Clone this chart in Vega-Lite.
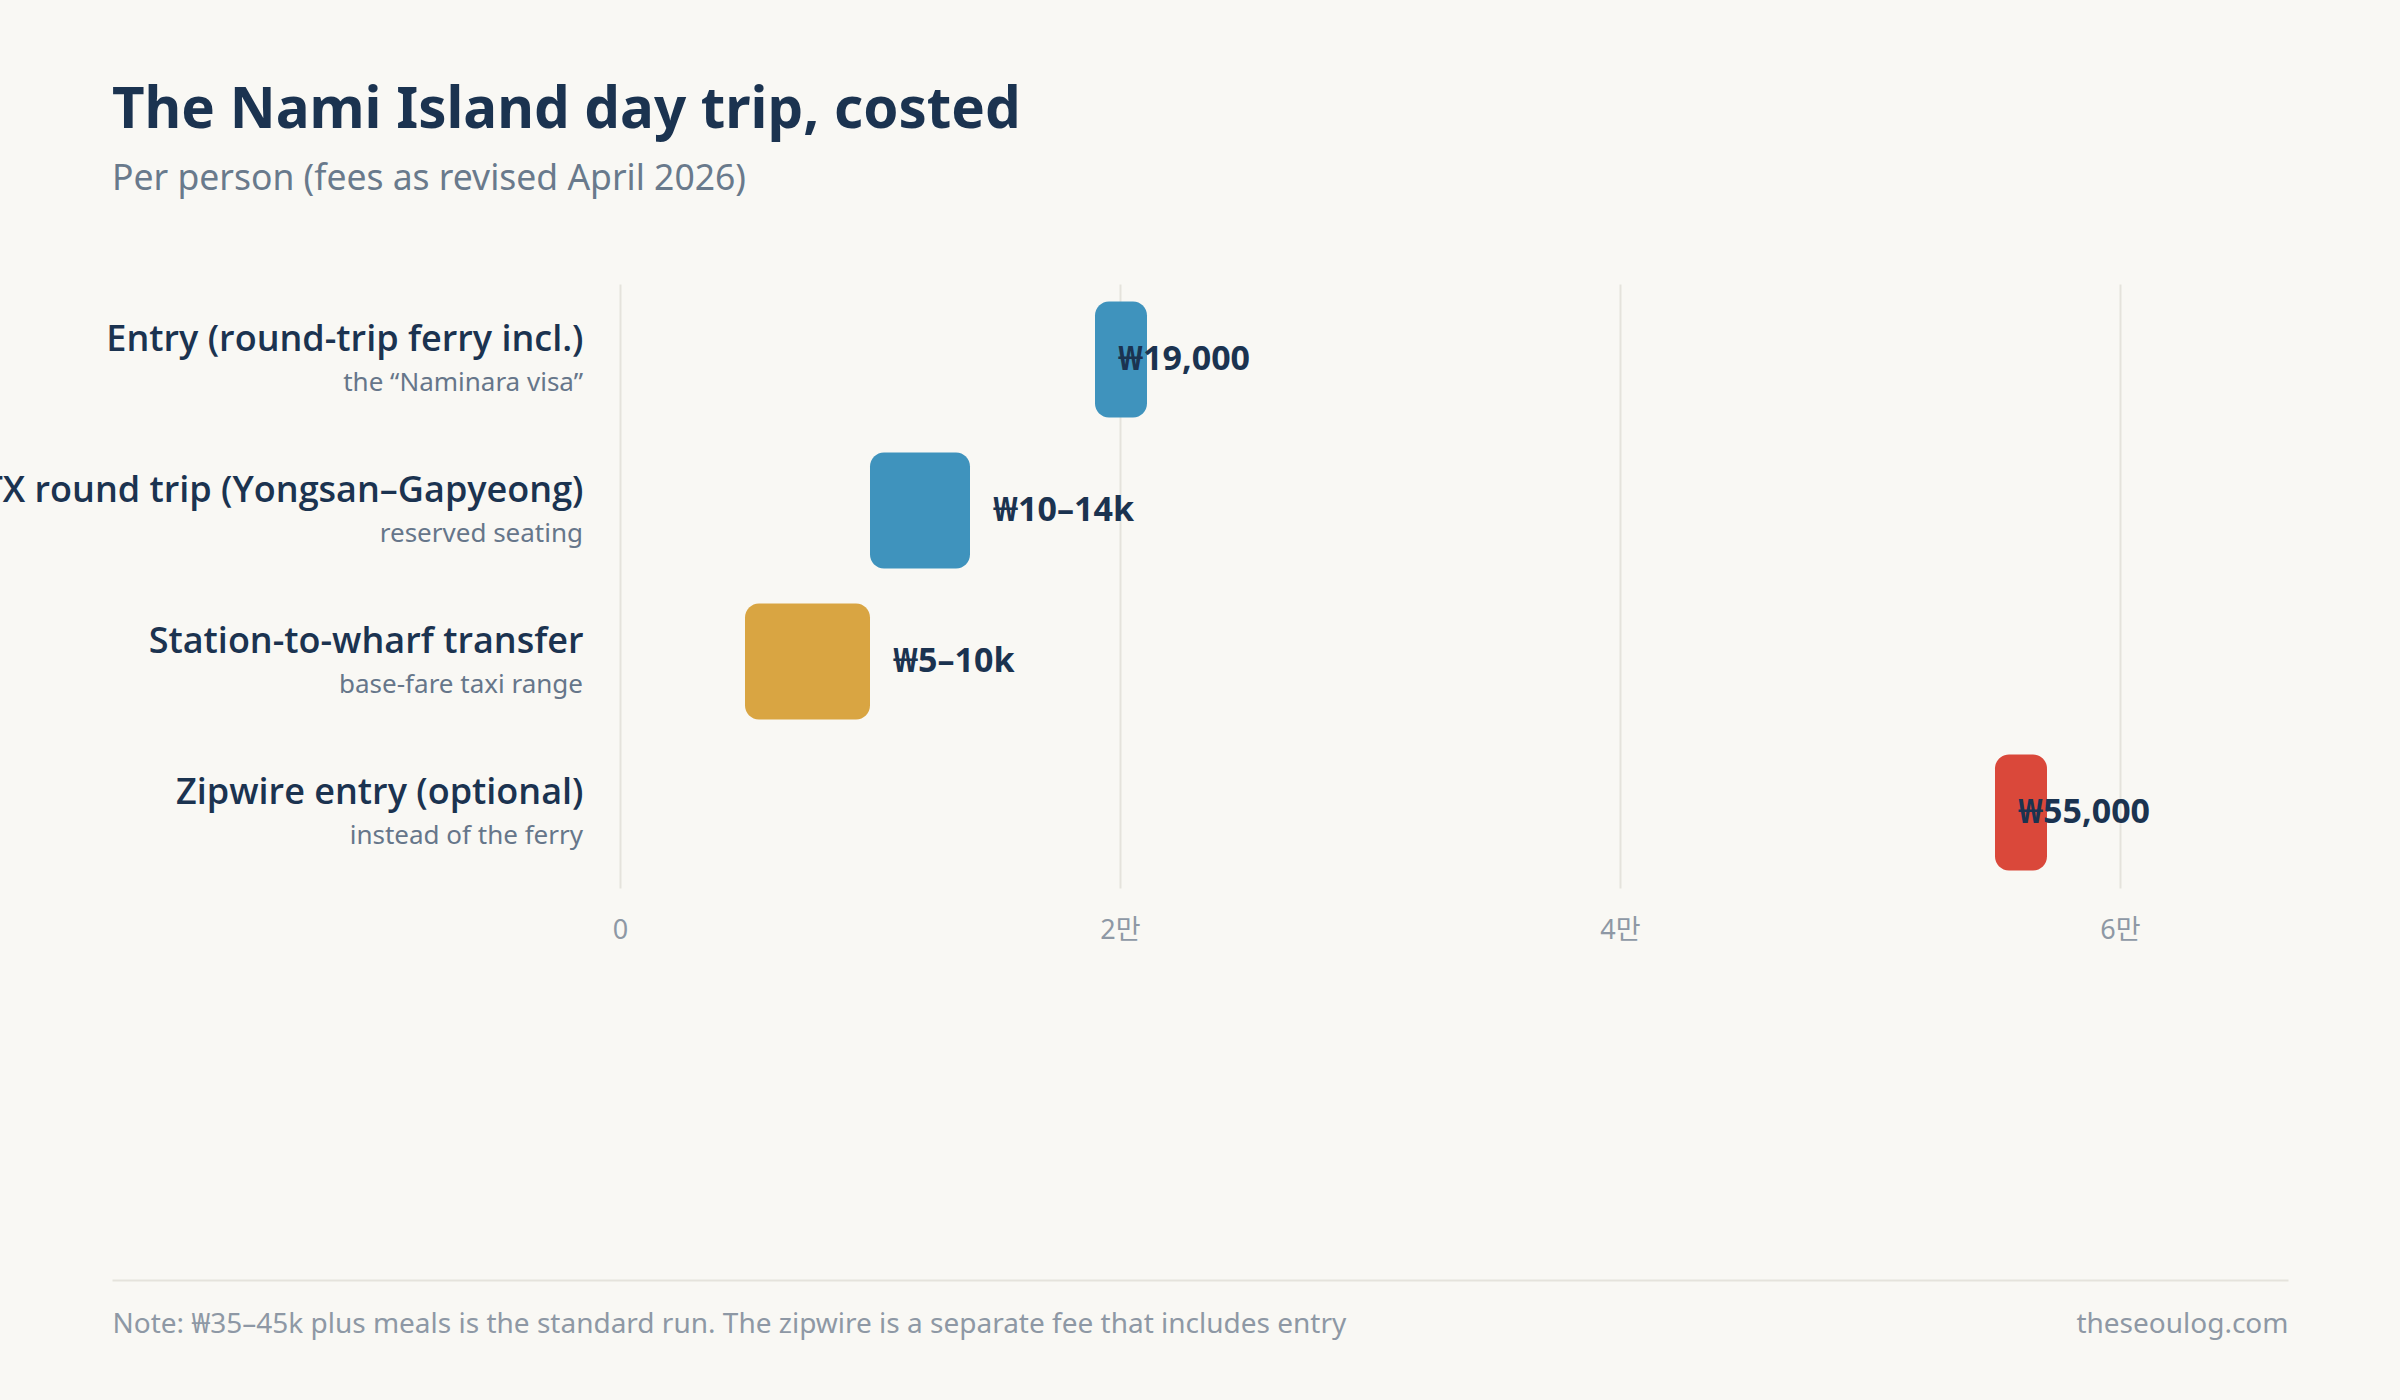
{
  "$schema": "https://vega.github.io/schema/vega-lite/v6.json",
  "width": 1650,
  "height": 604,
  "autosize": {"type": "none"},
  "padding": {"left": 620, "top": 284, "right": 130, "bottom": 512},
  "background": "#f9f8f4",
  "config": {
    "view": {"stroke": null},
    "font": "Noto Sans, Noto Sans CJK KR"
  },
  "title": {
    "text": "The Nami Island day trip, costed",
    "subtitle": "Per person (fees as revised April 2026)",
    "anchor": "start",
    "frame": "group",
    "dx": -508,
    "offset": 87,
    "fontSize": 56.5,
    "fontWeight": "bold",
    "color": "#1b3350",
    "subtitleFontSize": 35.5,
    "subtitleColor": "#697a8c",
    "subtitlePadding": 22
  },
  "data": {
    "values": [
      {"item": "Entry (round-trip ferry incl.)", "note": "the “Naminara visa”", "lo": 19000, "hi": 19000, "bar_end": 21080, "label": "₩19,000", "kind": "core"},
      {"item": "KTX round trip (Yongsan–Gapyeong)", "note": "reserved seating", "lo": 10000, "hi": 14000, "bar_end": 14000, "label": "₩10–14k", "kind": "core"},
      {"item": "Station-to-wharf transfer", "note": "base-fare taxi range", "lo": 5000, "hi": 10000, "bar_end": 10000, "label": "₩5–10k", "kind": "transfer"},
      {"item": "Zipwire entry (optional)", "note": "instead of the ferry", "lo": 55000, "hi": 55000, "bar_end": 57080, "label": "₩55,000", "kind": "optional"}
    ]
  },
  "layer": [
    {
      "encoding": {
        "y": {
          "field": "item",
          "type": "nominal",
          "sort": null,
          "scale": {"paddingInner": 0.232, "paddingOuter": 0.116},
          "axis": {
            "title": null,
            "domain": false,
            "ticks": false,
            "grid": false,
            "labelFont": "Open Sans, Noto Sans",
            "labelFontSize": 36,
            "labelFontWeight": 600,
            "labelColor": "#1b3350",
            "labelPadding": 37,
            "labelLimit": 1200,
            "labelBaseline": "alphabetic",
            "labelOffset": -9
          }
        }
      },
      "layer": [
        {
          "mark": {"type": "bar", "cornerRadius": 14},
          "encoding": {
            "x": {
              "field": "lo",
              "type": "quantitative",
              "scale": {"domain": [0, 66000], "nice": false},
              "axis": {
                "values": [0, 20000, 40000, 60000],
                "labelExpr": "datum.value == 0 ? '0' : (datum.value / 10000) + '만'",
                "labelFlush": false,
                "domain": false,
                "ticks": false,
                "tickSize": 0,
                "grid": true,
                "gridColor": "#e5e3dc",
                "gridWidth": 2,
                "labelFontSize": 27,
                "labelColor": "#8e98a5",
                "labelBaseline": "alphabetic",
                "labelPadding": 50,
                "title": "Note: ₩35–45k plus meals is the standard run. The zipwire is a separate fee that includes entry",
                "titleX": -508,
                "titleY": 444,
                "titleAlign": "left",
                "titleAnchor": "start",
                "titleBaseline": "alphabetic",
                "titleFontSize": 28,
                "titleFontWeight": "normal",
                "titleColor": "#8e98a5",
                "titleLimit": 3000
              }
            },
            "x2": {"field": "bar_end"},
            "color": {
              "field": "kind",
              "type": "nominal",
              "scale": {"domain": ["core", "transfer", "optional"], "range": ["#3f93bd", "#d9a542", "#da483a"]},
              "legend": null
            }
          }
        },
        {
          "mark": {"type": "text", "align": "right", "baseline": "alphabetic", "dx": -37, "dy": 31, "fontSize": 26, "color": "#66768a"},
          "encoding": {
            "x": {"datum": 0, "type": "quantitative"},
            "text": {"field": "note"}
          }
        },
        {
          "mark": {"type": "text", "align": "left", "baseline": "middle", "dx": 23, "fontSize": 34, "fontWeight": "bold", "color": "#1b3350"},
          "encoding": {
            "x": {"field": "hi", "type": "quantitative"},
            "text": {"field": "label"}
          }
        }
      ]
    },
    {
      "data": {"values": []},
      "mark": {"type": "point", "opacity": 0},
      "encoding": {
        "x": {
          "field": "lo",
          "type": "quantitative",
          "scale": {"domain": [0, 1], "range": [-508, 1668]},
          "axis": {
            "orient": "bottom",
            "offset": 392,
            "domain": true,
            "domainColor": "#e5e3dc",
            "domainWidth": 2,
            "ticks": false,
            "labels": false,
            "grid": false,
            "title": "theseoulog.com",
            "titleX": 1668,
            "titleY": 52,
            "titleAlign": "right",
            "titleBaseline": "alphabetic",
            "titleFontSize": 28,
            "titleFontWeight": "normal",
            "titleColor": "#8e98a5"
          }
        }
      }
    }
  ],
  "resolve": {"scale": {"x": "independent"}}
}
